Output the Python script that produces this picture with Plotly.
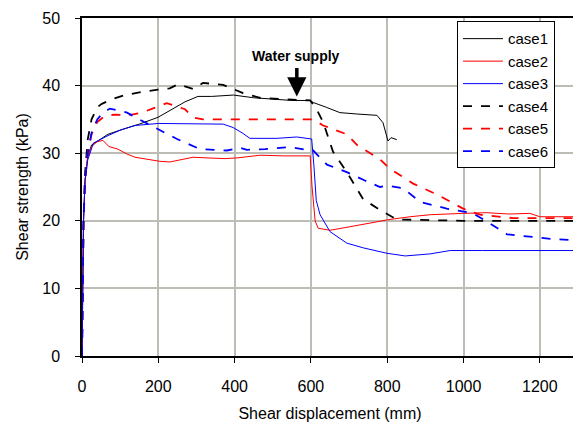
import plotly.graph_objects as go

# ---- data ----
case1_x = [0, 2, 4, 8, 15, 25, 40, 68, 110, 150, 199, 240, 270, 304, 340, 397, 450, 500, 550, 598, 606, 640, 676, 720, 773, 789, 802, 810, 825]
case1_y = [0, 10, 20, 26, 29.5, 31.2, 31.8, 32.8, 33.6, 34.3, 35.3, 36.6, 37.6, 38.4, 38.4, 38.6, 38.2, 38.0, 37.8, 37.8, 37.5, 36.8, 36.0, 35.8, 35.6, 34.5, 31.8, 32.3, 32.0]

case2_x = [0, 2, 4, 8, 15, 25, 40, 55, 70, 94, 117, 139, 170, 204, 230, 260, 291, 330, 375, 406, 467, 530, 598, 603, 611, 619, 650, 700, 737, 807, 860, 912, 999, 1061, 1120, 1174, 1200, 1250, 1300]
case2_y = [0, 10, 20, 26, 29.5, 31, 31.7, 31.9, 31.0, 30.6, 29.9, 29.4, 29.1, 28.8, 28.7, 29.0, 29.4, 29.3, 29.2, 29.3, 29.7, 29.6, 29.6, 25.0, 20.0, 18.9, 18.6, 19.1, 19.5, 20.2, 20.6, 20.9, 21.1, 21.2, 21.0, 21.1, 20.6, 20.6, 20.6]

case3_x = [0, 2, 4, 8, 15, 30, 68, 100, 139, 200, 244, 300, 336, 370, 396, 420, 440, 511, 563, 602, 608, 614, 624, 650, 694, 737, 799, 847, 912, 965, 1050, 1150, 1300]
case3_y = [0, 10, 20, 26, 29.0, 31.5, 32.6, 33.4, 34.1, 34.4, 34.4, 34.4, 34.4, 34.3, 33.8, 33.0, 32.2, 32.2, 32.4, 32.1, 28.0, 23.0, 20.9, 18.4, 16.7, 16.0, 15.2, 14.8, 15.1, 15.6, 15.6, 15.6, 15.6]

case4_x = [0, 2, 4, 8, 15, 25, 40, 52, 80, 113, 160, 199, 230, 252, 291, 317, 370, 422, 467, 520, 598, 615, 632, 658, 694, 737, 781, 825, 870, 912, 1000, 1100, 1200, 1300]
case4_y = [0, 10, 20, 27, 32, 35, 36.8, 37.3, 38.0, 38.6, 39.1, 39.4, 39.6, 40.2, 39.5, 40.4, 40.1, 38.9, 38.2, 38.0, 37.8, 36.5, 34.6, 30.2, 27.2, 23.2, 21.6, 20.2, 20.1, 20.1, 20.0, 20.0, 20.0, 20.0]

case5_x = [0, 2, 4, 8, 15, 25, 40, 55, 68, 86, 120, 157, 190, 222, 244, 270, 291, 317, 375, 450, 520, 598, 606, 632, 694, 721, 781, 807, 868, 930, 999, 1043, 1130, 1200, 1300]
case5_y = [0, 10, 20, 26, 30, 32.8, 34.6, 35.3, 35.6, 35.7, 35.6, 36.0, 36.7, 37.4, 37.0, 36.5, 35.3, 35.0, 35.0, 35.0, 35.1, 35.1, 35.0, 34.1, 32.8, 31.2, 29.1, 27.7, 25.5, 23.9, 21.8, 20.9, 20.4, 20.4, 20.4]

case6_x = [0, 2, 4, 8, 15, 25, 40, 55, 73, 90, 118, 150, 204, 249, 309, 380, 414, 432, 480, 545, 598, 606, 642, 694, 740, 781, 799, 842, 886, 956, 1025, 1061, 1114, 1174, 1235, 1300]
case6_y = [0, 10, 20, 26, 30, 33, 35, 36, 36.6, 36.4, 36.0, 35.0, 33.4, 32.1, 30.6, 30.4, 30.8, 30.5, 30.6, 30.9, 30.4, 30.4, 28.3, 27.2, 26.0, 25.0, 25.2, 24.8, 22.8, 21.8, 21.1, 19.9, 18.0, 17.6, 17.3, 17.1]

names = ["case1", "case2", "case3", "case4", "case5", "case6"]
xs = [case1_x, case2_x, case3_x, case4_x, case5_x, case6_x]
ys = [case1_y, case2_y, case3_y, case4_y, case5_y, case6_y]
colors = ["#000000", "#ff0000", "#0000ff", "#000000", "#ff0000", "#0000ff"]
dashes = ["solid", "solid", "solid", "dash", "dash", "dash"]
widths = [1, 1, 1, 1.8, 1.8, 1.8]

x_ticks = [0, 200, 400, 600, 800, 1000, 1200]
y_ticks = [0, 10, 20, 30, 40, 50]

fig = go.Figure()
for n, x, y, c, d, w in zip(names, xs, ys, colors, dashes, widths):
    fig.add_trace(go.Scatter(x=x, y=y, mode="lines", name=n,
                             line=dict(color=c, dash=d, width=w)))

font_family = "Liberation Sans, Arial, sans-serif"
# page body adds an 8px offset; figure sized to fit the 581x423 window
fig.update_layout(
    width=573, height=415,
    margin=dict(l=74, r=3, t=10, b=67),
    paper_bgcolor="white", plot_bgcolor="white",
    font=dict(family=font_family, size=15, color="black"),
    showlegend=True,
    legend=dict(x=0.756, y=0.99, xanchor="left", yanchor="top",
                bgcolor="white", bordercolor="black", borderwidth=1,
                font=dict(size=15), tracegroupgap=0, itemwidth=40),
    xaxis=dict(range=[0, 1300], tickvals=x_ticks, showgrid=True, gridcolor="#bdbdb5",
               gridwidth=2, showline=True, linecolor="black", linewidth=1.5, mirror=True,
               ticks="outside", ticklen=5, tickcolor="black", zeroline=False,
               automargin=False, ticklabelstandoff=10, ticklabeloverflow="allow",
               title=dict(text="Shear displacement (mm)", font=dict(size=16), standoff=14),
               tickfont=dict(size=16)),
    yaxis=dict(range=[0, 50], tickvals=y_ticks, showgrid=True, gridcolor="#bdbdb5",
               gridwidth=2, showline=True, linecolor="black", linewidth=1.5, mirror=True,
               ticks="outside", ticklen=5, tickcolor="black", zeroline=False,
               automargin=False, ticklabelstandoff=12, ticklabeloverflow="allow",
               title=dict(text="Shear strength (kPa)", font=dict(size=16), standoff=10),
               tickfont=dict(size=16)),
)

fig.add_annotation(x=561, y=44.4, text="<b>Water supply</b>", showarrow=False,
                   font=dict(size=14, color="black"), xanchor="center", yanchor="middle")
fig.add_annotation(x=563, y=38.4, text="", showarrow=True, arrowhead=2, arrowsize=1.1,
                   arrowwidth=3.5, arrowcolor="black", ax=0, ay=-30, standoff=0)

fig.write_html("out.html")
